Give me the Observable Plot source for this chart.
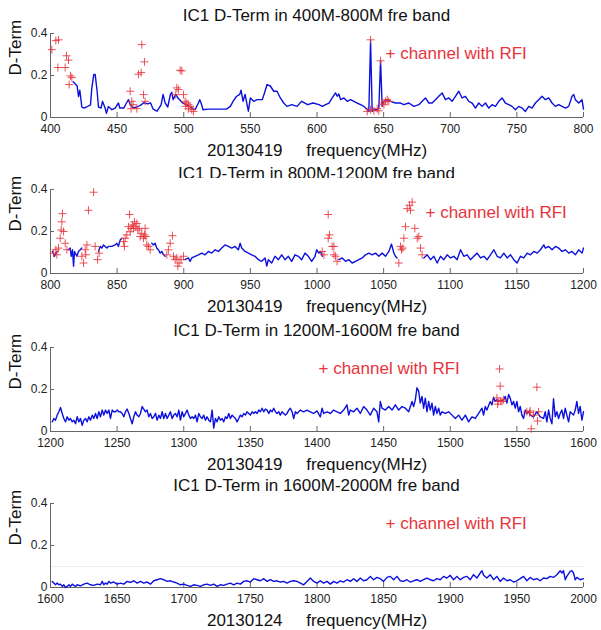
<!DOCTYPE html>
<html><head><meta charset="utf-8">
<script src="https://cdn.jsdelivr.net/npm/d3@7"></script>
<script src="https://cdn.jsdelivr.net/npm/@observablehq/plot@0.6"></script>
<style>
body{margin:0;background:#fff;font-family:"Liberation Sans",Arial,Helvetica,sans-serif;}
#wrap{position:relative;width:601px;height:630px;overflow:hidden;}
.panel{position:absolute;left:0;}
.title{position:absolute;left:50px;width:533px;text-align:center;font-size:17px;line-height:20px;color:#111;overflow:hidden;white-space:nowrap;}
</style></head><body><div id="wrap"></div>
<script>
// ---- data ----
const titles = ["IC1 D-Term in 400M-800M fre band","IC1 D-Term in 800M-1200M fre band","IC1 D-Term in 1200M-1600M fre band","IC1 D-Term in 1600M-2000M fre band"];
const dates = ["20130419","20130419","20130419","20130124"];
const domains = [[400,800],[800,1200],[1200,1600],[1600,2000]];
const xTicks = [[400,450,500,550,600,650,700,750,800],[800,850,900,950,1000,1050,1100,1150,1200],[1200,1250,1300,1350,1400,1450,1500,1550,1600],[1600,1650,1700,1750,1800,1850,1900,1950,2000]];
const yTicks = [0,0.2,0.4];
const legendLabel = "+ channel with RFI";

const line1 = [[417,.17],[420,.15],[421,.10],[422,.13],[423.5,.05],[425,.045],[427,.05],[430,.06],[431,.14],[432.5,.205],[433.5,.205],[435,.125],[436,.05],[438,.045],[439,.077],[441,.045],[442,.02],[443.5,.053],[446,.037],[448.5,.045],[451,.069],[452,.045],[455,.045],[457,.069],[458.5,.085],[460,.06],[462,.045],[465,.05],[468,.06],[470,.07],[473,.065],[475,.07],[477,.04],[480,.03],[483,.06],[484.5,.11],[486,.07],[488,.05],[490,.11],[491,.12],[492,.085],[494,.11],[496,.09],[499,.07],[502,.06],[505,.05],[508.5,.037],[511,.069],[512,.085],[513,.069],[514.5,.037],[518,.04],[522,.04],[527,.04],[532,.04],[535,.053],[537,.077],[539.5,.10],[542,.11],[543,.13],[544.5,.077],[546,.11],[548.5,.03],[550,.093],[552.5,.077],[555,.085],[559,.085],[561,.125],[562.5,.157],[565,.15],[567.5,.125],[570,.125],[572.5,.093],[575,.069],[577.5,.053],[581,.061],[585,.053],[588.5,.077],[593,.061],[597,.069],[601.5,.061],[604,.053],[606.5,.061],[609,.069],[611.4,.093],[613.9,.117],[615.2,.101],[616.4,.112],[617.7,.085],[620.2,.093],[622.7,.077],[625.2,.085],[627.7,.077],[630.2,.069],[632.7,.061],[635.2,.053],[637.7,.037],[638.9,.029],[640.2,.366],[641.4,.029],[642.7,.037],[645.2,.037],[646.4,.045],[647.7,.27],[648.9,.053],[650.2,.077],[652.7,.085],[655.2,.077],[658.9,.069],[662.7,.069],[665.2,.061],[668.9,.069],[672.7,.053],[676.4,.061],[678.9,.077],[681.4,.093],[683.9,.069],[686.4,.069],[688.9,.085],[691.4,.101],[693.9,.117],[696.4,.085],[698.9,.093],[701.4,.077],[703.9,.101],[706.4,.125],[708.9,.093],[711.4,.101],[713.9,.077],[716.4,.069],[718.9,.045],[721.4,.069],[723.9,.053],[726.4,.069],[728.9,.045],[731.4,.061],[733.9,.053],[736.4,.077],[738.9,.093],[741.4,.069],[743.9,.061],[746.4,.053],[748.9,.037],[751.4,.053],[753.9,.045],[756.4,.029],[758.9,.053],[761.4,.045],[763.9,.069],[766.4,.085],[768.9,.101],[771.4,.085],[773.9,.093],[776.4,.069],[778.9,.053],[781.4,.061],[783.9,.053],[786.4,.045],[788.9,.053],[791.4,.101],[792.7,.109],[793.9,.085],[796.4,.069],[798.9,.085],[800,.04]];
const rfi1 = [[401,.323],[404,.366],[406,.37],[405.5,.238],[411,.238],[412,.294],[413.5,.273],[415,.198],[416,.19],[414,.157],[459.8,.125],[461,.077],[462,.061],[464.8,.042],[460.5,.042],[466,.206],[468,.214],[468.5,.347],[470.5,.265],[469.8,.109],[471,.077],[497.3,.225],[498.5,.222],[494.8,.141],[496,.133],[494,.109],[499.8,.109],[501,.077],[502.3,.069],[503.5,.061],[504.8,.053],[506,.037],[507.3,.029],[501.5,.053],[503.5,.042],[640.2,.37],[647.7,.27],[637.7,.029],[640.2,.037],[642.7,.032],[645.2,.042],[646.4,.032],[648.9,.069],[651.4,.077],[652.7,.085],[653.9,.077],[650.2,.061]];

const line2 = [[801.5,.105],[803,.082],[804,.097],[805,.105],[809,null],[813.5,.113],[814.8,.121],[815.5,.082],[816.5,.113],[817.3,.035],[818,.105],[819.8,.082],[821,.105],[822.3,.113],[823.5,.121],[830,null],[836,.105],[837.3,.129],[838.5,.121],[839.8,.136],[841,.129],[842.3,.121],[843.5,.129],[846,.129],[848.5,.136],[849.8,.144],[851,.129],[852.3,.16],[853.5,.168],[865,null],[876,.144],[877.3,.136],[878.5,.144],[879.8,.12],[881,.113],[882.3,.097],[883.5,.105],[884.8,.09],[886,.082],[893,null],[901,.066],[903.5,.074],[904.8,.058],[906,.074],[908.5,.082],[911,.089],[913.5,.097],[916,.089],[918.5,.105],[921,.097],[923.5,.113],[926,.105],[928.5,.121],[931,.136],[933.5,.129],[936,.121],[938.5,.129],[941,.113],[942.3,.144],[943.5,.121],[946,.105],[948.5,.097],[951,.089],[953.5,.082],[956,.066],[958.5,.058],[961,.074],[962.3,.035],[963.5,.066],[966,.05],[968.5,.082],[971,.066],[973.5,.089],[976,.066],[978.5,.082],[981,.058],[983.5,.089],[986,.082],[988.5,.066],[991,.097],[993.5,.082],[996,.058],[998.5,.082],[999.8,.113],[1001.4,.097],[1002.6,.105],[1004,.082],[1010,null],[1016.4,.066],[1018.9,.074],[1021.4,.058],[1023.9,.066],[1026.4,.05],[1028.9,.058],[1031.4,.066],[1033.9,.074],[1036.4,.089],[1038.9,.097],[1041.4,.089],[1043.9,.097],[1046.4,.082],[1048.9,.097],[1051.4,.082],[1053.9,.105],[1055.9,.14],[1057.7,.097],[1058.9,.082],[1060.1,.074],[1070,null],[1080.2,.074],[1082.7,.089],[1085.2,.066],[1087.7,.082],[1090.2,.05],[1092.7,.082],[1095.2,.066],[1097.7,.089],[1100.2,.074],[1102.7,.082],[1105.2,.066],[1107.7,.113],[1110.2,.082],[1112.7,.089],[1115.2,.066],[1117.7,.082],[1120.2,.097],[1122.7,.074],[1125.2,.082],[1127.7,.066],[1130.2,.089],[1132.7,.113],[1135.2,.082],[1137.7,.074],[1140.2,.097],[1142.7,.074],[1145.2,.089],[1147.7,.066],[1150.2,.05],[1152.7,.082],[1155.2,.074],[1157.7,.097],[1160.2,.089],[1162.7,.105],[1165.2,.097],[1167.7,.113],[1170.2,.136],[1171.4,.121],[1173.9,.129],[1176.4,.113],[1178.9,.129],[1181.4,.121],[1183.9,.105],[1186.4,.113],[1188.9,.097],[1191.4,.105],[1193.9,.089],[1196.4,.113],[1198.9,.097],[1200,.121]];
const rfi2 = [[802.3,.097],[804.8,.089],[806,.121],[807.3,.168],[808.5,.246],[809,.285],[809.8,.2],[808,.207],[811,.144],[812.3,.113],[804,.113],[823.5,.082],[824.8,.05],[826,.113],[827.3,.136],[828.5,.301],[832.3,.387],[826.5,.089],[835.3,.066],[836.5,.097],[833.5,.129],[854.8,.152],[856,.168],[857.3,.184],[858.5,.223],[859.3,.281],[860.5,.215],[861.5,.231],[862.3,.215],[863,.246],[864,.223],[864.8,.238],[865.5,.207],[866.5,.215],[867.3,.176],[868.5,.191],[869.8,.168],[871,.215],[871.5,.176],[872.3,.136],[873.5,.129],[874.8,.113],[855.5,.129],[859.8,.199],[870.5,.184],[887.3,.089],[888.5,.113],[889.8,.144],[891.5,.18],[892.3,.082],[893.5,.066],[894.8,.074],[895.5,.035],[896.5,.05],[898,.066],[899.8,.082],[1003.9,.105],[1005.2,.089],[1008.4,.281],[1009.4,.184],[1008.4,.168],[1011.4,.129],[1012.7,.129],[1012.7,.089],[1015.1,.058],[1013.9,.082],[1061.4,.05],[1062.7,.129],[1063.4,.113],[1065.2,.168],[1066.4,.223],[1067.7,.309],[1069.4,.325],[1071.4,.34],[1070.2,.301],[1073.4,.215],[1075.2,.168],[1076.4,.176],[1077.7,.121],[1078.9,.089],[1064.4,.121]];

const line3 = [[1201.3,.046],[1202.5,.062],[1203.8,.054],[1205,.078],[1206.3,.094],[1207.5,.114],[1208.8,.086],[1210,.062],[1211.3,.046],[1212.5,.07],[1213.8,.054],[1215,.062],[1216.3,.046],[1217.5,.054],[1218.8,.037],[1220,.07],[1221.3,.046],[1222.5,.062],[1223.8,.029],[1225,.054],[1226.3,.062],[1227.5,.046],[1228.8,.07],[1230,.054],[1231.3,.078],[1232.5,.062],[1233.8,.086],[1235,.062],[1236.3,.094],[1237.5,.07],[1238.8,.102],[1240,.078],[1241.3,.102],[1242.5,.086],[1243.8,.102],[1245,.062],[1246.3,.102],[1247.5,.094],[1248.8,.094],[1250,.102],[1251.3,.094],[1252.5,.094],[1253.8,.086],[1255,.07],[1256.3,.094],[1257.5,.107],[1258.8,.086],[1260,.062],[1261.3,.037],[1262.5,.07],[1263.8,.094],[1265,.078],[1266.3,.07],[1267.5,.086],[1268.8,.119],[1270,.107],[1271.3,.094],[1272.5,.102],[1273.8,.07],[1275,.086],[1276.3,.062],[1277.5,.07],[1278.8,.086],[1280,.054],[1281.3,.078],[1282.5,.062],[1283.8,.094],[1285,.062],[1286.3,.086],[1287.5,.062],[1288.8,.078],[1290,.094],[1291.3,.062],[1292.5,.078],[1293.8,.086],[1295,.07],[1296.3,.102],[1297.5,.054],[1298.8,.094],[1300,.07],[1301.3,.086],[1302.5,.102],[1303.8,.078],[1305,.062],[1306.3,.07],[1307.5,.062],[1308.8,.078],[1310,.046],[1311.3,.086],[1312.5,.07],[1313.8,.062],[1315,.078],[1316.3,.054],[1317.5,.07],[1318.8,.054],[1320,.046],[1321.3,.102],[1322.5,.016],[1323.8,.062],[1325,.046],[1326.3,.07],[1327.5,.054],[1328.8,.062],[1330,.046],[1331.3,.07],[1332.5,.062],[1333.8,.086],[1335,.062],[1336.3,.078],[1337.5,.07],[1338.8,.062],[1340,.046],[1341.3,.062],[1342.5,.078],[1343.8,.07],[1345,.086],[1346.3,.078],[1347.5,.094],[1348.8,.086],[1350,.078],[1351.3,.094],[1352.5,.086],[1353.8,.094],[1355,.086],[1356.3,.102],[1357.5,.094],[1358.8,.111],[1360,.094],[1361.3,.107],[1362.5,.102],[1363.8,.086],[1365,.102],[1366.3,.094],[1367.5,.111],[1368.8,.094],[1370,.086],[1371.3,.094],[1372.5,.078],[1373.8,.094],[1375,.086],[1376.3,.078],[1377.5,.086],[1378.8,.102],[1380,.111],[1381.3,.094],[1382.5,.062],[1383.8,.094],[1385,.086],[1386.3,.094],[1387.5,.102],[1390,.094],[1392.5,.102],[1395,.094],[1397.5,.086],[1400,.098],[1402.5,.07],[1403.8,.111],[1405,.086],[1407.5,.094],[1410,.086],[1412.5,.102],[1415,.094],[1417.5,.086],[1420,.102],[1422.5,.127],[1423.8,.078],[1425,.102],[1427.5,.094],[1430,.111],[1432.5,.086],[1435,.119],[1437.5,.102],[1440,.078],[1442.5,.111],[1445,.094],[1446.3,.046],[1447.5,.143],[1448.8,.111],[1451.3,.102],[1453.8,.119],[1456.3,.102],[1458.8,.127],[1461.3,.102],[1463.8,.119],[1466.3,.111],[1468.8,.094],[1471.3,.143],[1472.5,.119],[1473.8,.151],[1475,.208],[1476.3,.192],[1477.5,.135],[1478.8,.167],[1480,.111],[1481.3,.159],[1482.5,.094],[1483.8,.143],[1485,.102],[1486.3,.135],[1487.5,.078],[1488.8,.119],[1490,.086],[1491.3,.111],[1492.5,.078],[1493.8,.094],[1496.3,.086],[1498.8,.094],[1501.3,.078],[1503.8,.062],[1506.3,.078],[1508.8,.054],[1511.3,.078],[1513.8,.046],[1516.3,.07],[1518.8,.062],[1521.3,.086],[1523.8,.111],[1525,.078],[1526.3,.119],[1527.5,.102],[1530,.143],[1531.3,.127],[1532.5,.163],[1533.8,.143],[1535,.151],[1537.5,.143],[1540,.151],[1541.3,.167],[1542.5,.135],[1543.8,.176],[1545,.159],[1546.3,.127],[1547.5,.143],[1548.8,.111],[1550,.143],[1551.3,.094],[1552.5,.119],[1553.8,.078],[1555,.062],[1556.3,.102],[1557.5,.086],[1558.8,.094],[1560,.078],[1562.5,.07],[1565,.094],[1567.5,.07],[1570,.062],[1571.3,.094],[1572.5,.046],[1573.8,.102],[1575,.062],[1576.3,.037],[1577.5,.156],[1578.8,.07],[1580,.094],[1581.3,.062],[1582.5,.086],[1583.8,.102],[1585,.062],[1586.3,.111],[1587.5,.078],[1588.8,.046],[1590,.094],[1592.5,.078],[1593.8,.102],[1595,.143],[1596.3,.086],[1597.5,.119],[1598.8,.054],[1600,.094]];
const rfi3 = [[1537,.298],[1537.5,.216],[1535,.16],[1536,.143],[1538.8,.143],[1540,.151],[1535.5,.13],[1537.8,.145],[1565,.211],[1557.5,.094],[1560,.098],[1562.5,.078],[1566.3,.094],[1565.5,.05],[1560.8,.013],[1559.5,.09]];

const line4 = [[1601.3,.029],[1602.5,.021],[1603.8,.013],[1605,.021],[1606.3,.013],[1607.5,.016],[1608.8,.005],[1610,.013],[1611.3,0],[1612.5,.005],[1613.8,.013],[1615,.005],[1616.3,.016],[1617.5,.01],[1618.8,.005],[1620,.013],[1622.5,.008],[1625,.016],[1627.5,.021],[1630,.013],[1632.5,.01],[1635,.016],[1637.5,.013],[1638.8,.029],[1640,.013],[1641.3,.021],[1642.5,.016],[1643.8,.029],[1645,.021],[1647.5,.026],[1650,.016],[1652.5,.021],[1655,.016],[1657.5,.029],[1660,.024],[1662.5,.032],[1665,.021],[1667.5,.029],[1670,.021],[1672.5,.026],[1675,.016],[1677.5,.032],[1680,.037],[1682.5,.042],[1685,.037],[1687.5,.029],[1690,.032],[1692.5,.026],[1695,.021],[1697.5,.013],[1700,.016],[1702.5,.01],[1705,.005],[1707.5,.013],[1710,.01],[1712.5,.005],[1715,.013],[1717.5,.016],[1720,.01],[1722.5,.016],[1725,.005],[1727.5,.013],[1730,.01],[1732.5,.016],[1735,.021],[1737.5,.013],[1740,.021],[1742.5,.016],[1745,.029],[1747.5,.032],[1750,.026],[1752.5,.042],[1755,.037],[1757.5,.032],[1760,.042],[1762.5,.029],[1765,.037],[1767.5,.029],[1770,.032],[1772.5,.026],[1775,.029],[1777.5,.021],[1780,.029],[1782.5,.032],[1785,.029],[1787.5,.021],[1790,.013],[1792.5,.029],[1795,.045],[1797.5,.029],[1800,.021],[1802.5,.032],[1805,.021],[1807.5,.029],[1810,.016],[1812.5,.029],[1815,.021],[1817.5,.032],[1820,.026],[1822.5,.037],[1825,.029],[1827.5,.042],[1830,.029],[1832.5,.045],[1835,.032],[1837.5,.037],[1840,.053],[1842.5,.037],[1845,.048],[1847.5,.042],[1850,.029],[1852.5,.048],[1855,.053],[1857.5,.037],[1860,.053],[1862.5,.032],[1865,.029],[1867.5,.037],[1870,.026],[1872.5,.032],[1875,.037],[1877.5,.029],[1880,.037],[1882.5,.045],[1885,.037],[1887.5,.032],[1890,.042],[1892.5,.037],[1895,.053],[1897.5,.045],[1900,.058],[1902.5,.037],[1905,.053],[1907.5,.037],[1910,.048],[1912.5,.053],[1915,.037],[1917.5,.061],[1920,.045],[1922.5,.069],[1923.8,.08],[1925,.058],[1927.5,.045],[1930,.061],[1932.5,.037],[1935,.053],[1937.5,.029],[1940,.045],[1942.5,.032],[1945,.037],[1947.5,.026],[1950,.032],[1952.5,.042],[1955,.053],[1957.5,.032],[1960,.048],[1962.5,.037],[1965,.042],[1967.5,.032],[1970,.045],[1972.5,.042],[1975,.053],[1977.5,.048],[1980,.061],[1982.5,.08],[1983.8,.069],[1985,.08],[1986.3,.037],[1987.5,.053],[1990,.077],[1991.3,.08],[1992.5,.069],[1993.8,.037],[1995,.048],[1997.5,.037],[2000,.042]];
const rfi4 = [];

const lines = [line1, line2, line3, line4];
const rfis = [rfi1, rfi2, rfi3, rfi4];

// ---- layout / style ----
const panelTops = [0, 156, 314, 470];
const titleTops = [6, 164, 321, 476];
const titleHeights = [20, 14, 20, 20];
const legendDx = [335, 375, 268, 335];
const legendDy = [20, 23, 21, 20];
const FONT = '"Liberation Sans", Arial, Helvetica, sans-serif';
const AX = "#666", BLUE = "#0c10dc", RED = "#e8343c";
const W = 601, H = 157, MT = 33, MB = 40, ML = 50, MR = 18;
const plotH = H - MT - MB, plotW = W - ML - MR;

const thinCross = {
  draw(ctx, size) {
    const r = Math.sqrt(size / Math.PI);
    ctx.moveTo(-r, 0); ctx.lineTo(r, 0);
    ctx.moveTo(0, -r); ctx.lineTo(0, r);
  }
};

const wrap = document.getElementById("wrap");
for (let i = 0; i < 4; i++) {
  const dom = domains[i];
  const chart = Plot.plot({
    width: W, height: H, marginTop: MT, marginBottom: MB, marginLeft: ML, marginRight: MR,
    x: {domain: dom},
    y: {domain: [0, 0.4]},
    style: {fontFamily: FONT, overflow: "visible", background: "transparent", color: "#222"},
    marks: [
      i === 3 ? Plot.ruleY([0.1], {stroke: "#ececec"}) : null,
      Plot.ruleY([0], {stroke: AX}),
      Plot.ruleX([dom[0]], {stroke: AX}),
      Plot.tickX(xTicks[i], {x: d => d, stroke: AX, insetTop: plotH - 5}),
      Plot.tickY(yTicks, {y: d => d, stroke: AX, insetRight: plotW - 4}),
      Plot.axisX({ticks: xTicks[i], tickSize: 0, tickPadding: 7, tickFormat: d => String(d), fontSize: 12, fill: "#222", label: null}),
      Plot.axisY({ticks: yTicks, tickSize: 0, tickPadding: 3, tickFormat: d => String(d), fontSize: 12, fill: "#222", label: null}),
      Plot.line(lines[i], {x: d => d[0], y: d => d[1], stroke: BLUE, strokeWidth: 1.4}),
      Plot.dot(rfis[i], {x: d => d[0], y: d => d[1], symbol: thinCross, r: 4, stroke: RED, strokeWidth: 1, strokeOpacity: 0.85, fill: "none"}),
      Plot.text([legendLabel], {frameAnchor: "top-left", dx: legendDx[i], dy: legendDy[i], textAnchor: "start", lineAnchor: "middle", fill: RED, fontSize: 17}),
      Plot.text(["D-Term"], {frameAnchor: "left", dx: -35, rotate: -90, fontSize: 17, fill: "#111"}),
      Plot.text([dates[i] + "\u00a0\u00a0\u00a0\u00a0\u00a0frequency(MHz)"], {frameAnchor: "bottom", dy: 38, lineAnchor: "bottom", fontSize: 17, fill: "#111"})
    ]
  });
  chart.classList.add("panel");
  chart.style.top = panelTops[i] + "px";
  wrap.appendChild(chart);
  const t = document.createElement("div");
  t.className = "title";
  t.style.top = titleTops[i] + "px";
  t.style.height = titleHeights[i] + "px";
  t.textContent = titles[i];
  wrap.appendChild(t);
}
</script></body></html>
